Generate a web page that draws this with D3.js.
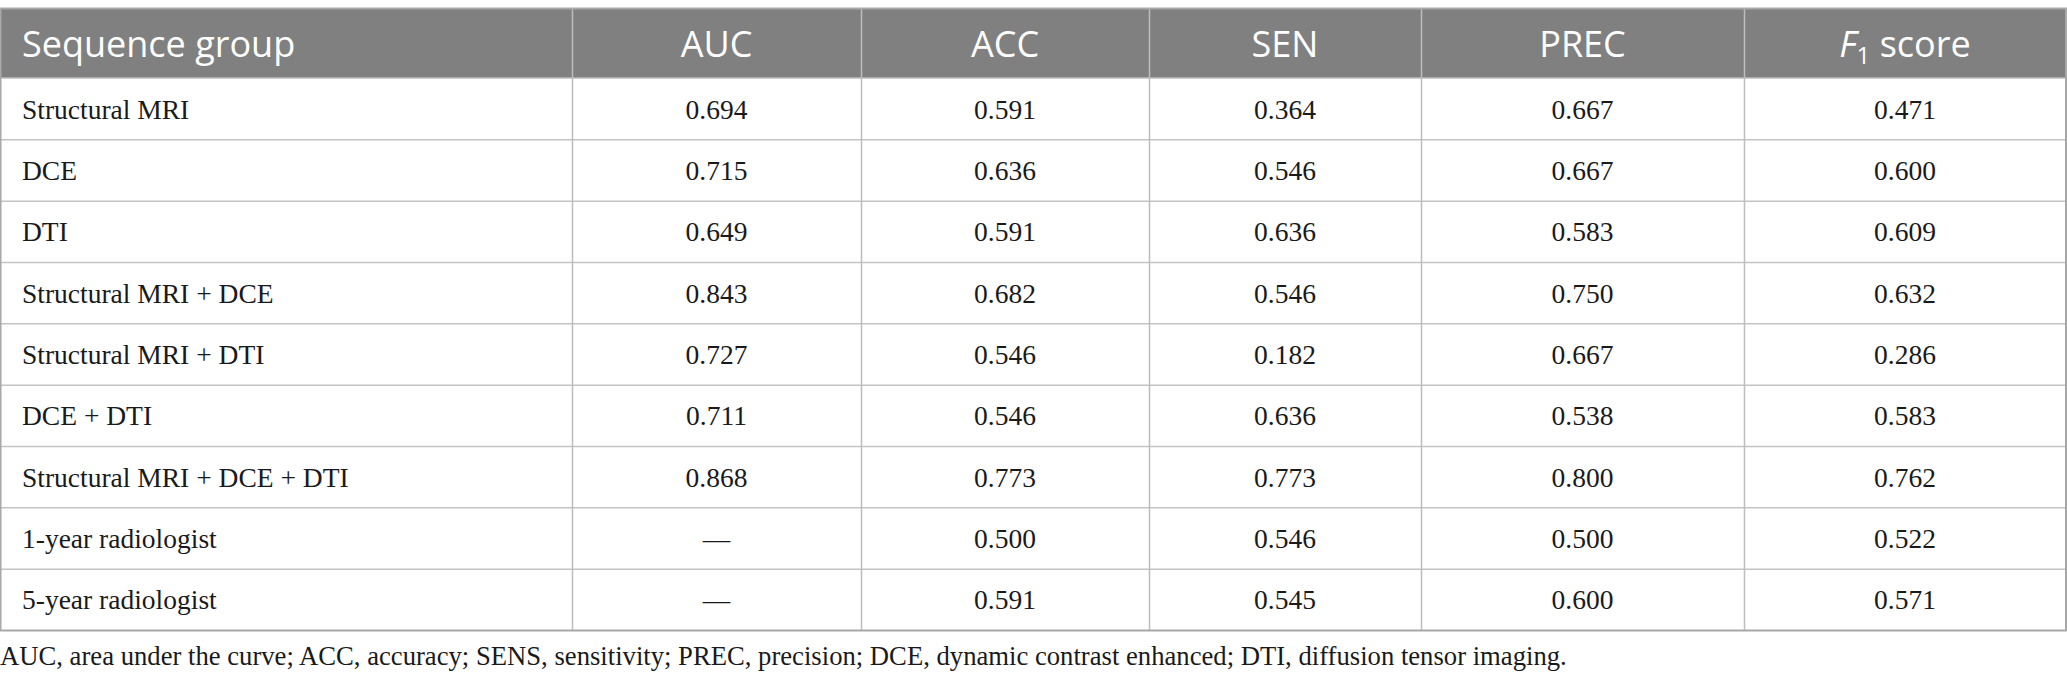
<!DOCTYPE html>
<html>
<head>
<meta charset="utf-8">
<script src="https://cdn.jsdelivr.net/npm/d3@7"></script>
<style>
  html, body { margin: 0; padding: 0; background: #fff; }
  svg { display: block; }
</style>
</head>
<body>
<svg id="chart" width="2067" height="686"></svg>
<script>
// table content
var groups = [
  "Structural MRI",
  "DCE",
  "DTI",
  "Structural MRI + DCE",
  "Structural MRI + DTI",
  "DCE + DTI",
  "Structural MRI + DCE + DTI",
  "1-year radiologist",
  "5-year radiologist"
];
var metrics = ["AUC", "ACC", "SEN", "PREC", "F1"];
var auc  = [0.694, 0.715, 0.649, 0.843, 0.727, 0.711, 0.868, null, null];
var acc  = [0.591, 0.636, 0.591, 0.682, 0.546, 0.546, 0.773, 0.500, 0.591];
var sen  = [0.364, 0.546, 0.636, 0.546, 0.182, 0.636, 0.773, 0.546, 0.545];
var prec = [0.667, 0.667, 0.583, 0.750, 0.667, 0.538, 0.800, 0.500, 0.600];
var f1   = [0.471, 0.600, 0.609, 0.632, 0.286, 0.583, 0.762, 0.522, 0.571];
var footnote = "AUC, area under the curve; ACC, accuracy; SENS, sensitivity; PREC, precision; DCE, dynamic contrast enhanced; DTI, diffusion tensor imaging.";

var series = [auc, acc, sen, prec, f1];

// layout
var colEdges = [0, 572, 861, 1149, 1421, 1744, 2066];
var tableTop = 9, headBottom = 78, tableBottom = 630;

var svg = d3.select("#chart");

var cols = ["group"].concat(metrics);
var colLeft = d3.scaleOrdinal().domain(cols).range(colEdges.slice(0, -1));
var colRight = d3.scaleOrdinal().domain(cols).range(colEdges.slice(1));
var colMid = function (c) { return (colLeft(c) + colRight(c)) / 2; };

var y = d3.scaleBand().domain(groups).range([headBottom, tableBottom]);
var fmt = d3.format(".3f");

// header band
svg.append("rect")
  .attr("x", 0).attr("y", tableTop)
  .attr("width", colEdges[colEdges.length - 1]).attr("height", headBottom - tableTop)
  .attr("fill", "#808080");

// row lines
svg.append("g").selectAll("line").data(groups.slice(1)).enter()
  .append("line")
  .attr("x1", 0).attr("x2", colEdges[colEdges.length - 1])
  .attr("y1", function (d) { return y(d) + 0.5; })
  .attr("y2", function (d) { return y(d) + 0.5; })
  .attr("stroke", "#c4c4c4").attr("stroke-width", 1.5);

svg.append("line")
  .attr("x1", 0).attr("x2", colEdges[colEdges.length - 1])
  .attr("y1", headBottom).attr("y2", headBottom)
  .attr("stroke", "#bdbdbd").attr("stroke-width", 1.5);

// column lines
svg.append("g").selectAll("line").data(cols.slice(1)).enter()
  .append("line")
  .attr("x1", function (c) { return colLeft(c) + 0.5; })
  .attr("x2", function (c) { return colLeft(c) + 0.5; })
  .attr("y1", tableTop).attr("y2", tableBottom)
  .attr("stroke", "#bdbdbd").attr("stroke-width", 1.5);

// outer border
svg.append("rect")
  .attr("x", 0.5).attr("y", tableTop - 0.5)
  .attr("width", colEdges[colEdges.length - 1] - 0.5)
  .attr("height", tableBottom - tableTop + 1)
  .attr("fill", "none")
  .attr("stroke", "#a8a8a8").attr("stroke-width", 2);

// header texts
var head = svg.append("g")
  .attr("font-family", "'Open Sans', sans-serif")
  .attr("font-size", 36)
  .attr("fill", "#fff");

head.append("text")
  .attr("x", 22).attr("y", 57)
  .text("Sequence group");

head.selectAll("text.m").data(metrics).enter()
  .append("text")
  .attr("class", "m")
  .attr("x", function (c) { return colMid(c); })
  .attr("y", 57)
  .attr("text-anchor", "middle")
  .each(function (c) {
    var t = d3.select(this);
    if (c === "F1") {
      t.append("tspan").attr("font-style", "italic").text("F");
      t.append("tspan").attr("font-size", 24).attr("dy", 7).text("1");
      t.append("tspan").attr("dy", -7).text(" score");
    } else {
      t.text(c);
    }
  });

// body texts
var body = svg.append("g")
  .attr("font-family", "'Liberation Serif', 'DejaVu Serif', serif")
  .attr("font-size", 27.5)
  .attr("fill", "#1a1a1a");

body.selectAll("text.g").data(groups).enter()
  .append("text")
  .attr("class", "g")
  .attr("x", 22)
  .attr("y", function (d) { return y(d) + y.bandwidth() / 2 + 10; })
  .text(function (d) { return d; });

metrics.forEach(function (m, mi) {
  body.selectAll("text.v" + mi).data(series[mi]).enter()
    .append("text")
    .attr("class", "v" + mi)
    .attr("x", colMid(m))
    .attr("y", function (d, i) { return y(groups[i]) + y.bandwidth() / 2 + 10; })
    .attr("text-anchor", "middle")
    .text(function (d) { return d === null ? "\u2014" : fmt(d); });
});

// footnote, sized to span the same width as the original
var note = svg.append("text")
  .attr("x", 0).attr("y", 665)
  .attr("font-family", "'Liberation Serif', 'DejaVu Serif', serif")
  .attr("font-size", 23)
  .attr("fill", "#1a1a1a")
  .text(footnote);
var len = note.node().getComputedTextLength();
note.attr("font-size", 23 * 1568 / len);
</script>
</body>
</html>
